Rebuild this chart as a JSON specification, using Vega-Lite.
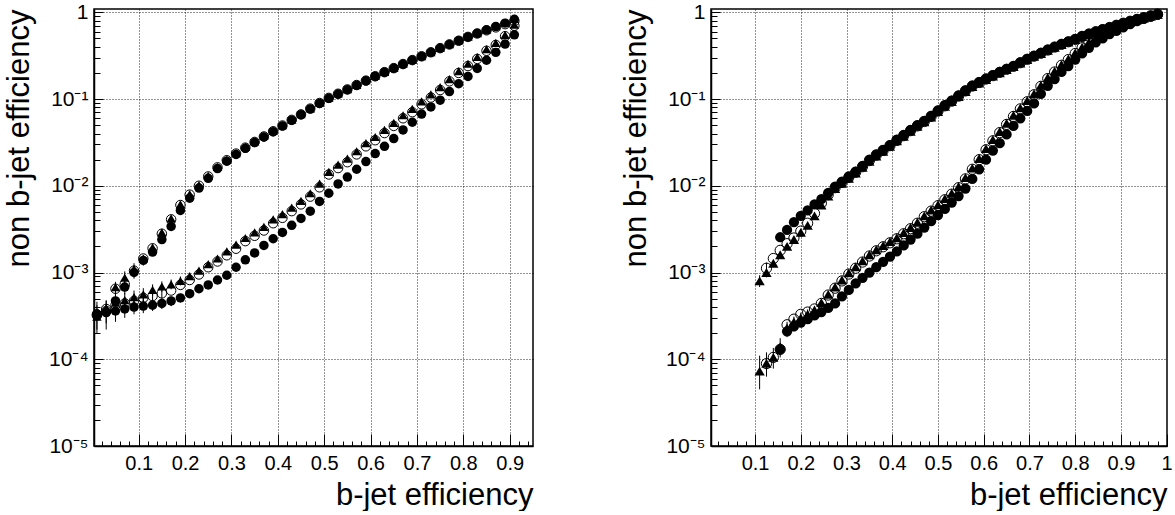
{
"$schema": "https://vega.github.io/schema/vega-lite/v6.json",
"padding": {"left": 2, "top": 0, "right": 0, "bottom": 0},
"bounds": "flush",
"spacing": 178,
"config": {
 "view": {"stroke": "black", "strokeWidth": 1.5},
 "font": "Liberation Sans",
 "axis": {"labelColor": "black", "titleColor": "black", "tickColor": "black", "domainColor": "black", "labelFont": "Liberation Sans", "titleFont": "Liberation Sans", "titleFontWeight": "normal", "gridColor": "#000", "gridDash": [1, 2], "gridWidth": 1, "gridOpacity": 0.85, "labelFlush": false, "labelOverlap": false, "labelBound": false}
},
"datasets": {
 "left": [
  {"x":0.01,"uF":3.3e-4,"uO":3.3e-4,"uT":3.4e-4,"lF":3.3e-4,"lO":3.2e-4,"lT":3.1e-4},
  {"x":0.03,"uF":3.5e-4,"uO":3.8e-4,"uT":3.9e-4,"lF":3.45e-4,"lO":3.6e-4,"lT":3.7e-4},
  {"x":0.05,"uF":4.7e-4,"uO":6.5e-4,"uT":6.8e-4,"lF":3.6e-4,"lO":4.2e-4,"lT":4.5e-4},
  {"x":0.07,"uF":6.8e-4,"uO":7.3e-4,"uT":8.7e-4,"lF":3.8e-4,"lO":4.4e-4,"lT":4.8e-4},
  {"x":0.09,"uF":1.0e-3,"uO":1.05e-3,"uT":1.1e-3,"lF":4.0e-4,"lO":4.7e-4,"lT":5.2e-4},
  {"x":0.11,"uF":1.38e-3,"uO":1.45e-3,"uT":1.45e-3,"lF":4.1e-4,"lO":5.1e-4,"lT":5.6e-4},
  {"x":0.13,"uF":1.72e-3,"uO":1.9e-3,"uT":1.95e-3,"lF":4.2e-4,"lO":5.35e-4,"lT":6.3e-4},
  {"x":0.15,"uF":2.4e-3,"uO":2.8e-3,"uT":2.9e-3,"lF":4.4e-4,"lO":5.75e-4,"lT":6.9e-4},
  {"x":0.17,"uF":3.4e-3,"uO":4.1e-3,"uT":4.2e-3,"lF":4.7e-4,"lO":6.2e-4,"lT":7.3e-4},
  {"x":0.19,"uF":5.2e-3,"uO":6.0e-3,"uT":6.1e-3,"lF":5.1e-4,"lO":7.2e-4,"lT":8.0e-4},
  {"x":0.21,"uF":7.2e-3,"uO":7.9e-3,"uT":8.0e-3,"lF":5.7e-4,"lO":8.2e-4,"lT":9.1e-4},
  {"x":0.23,"uF":9.4e-3,"uO":1.0e-2,"uT":1.02e-2,"lF":6.5e-4,"lO":9.5e-4,"lT":1.05e-3},
  {"x":0.25,"uF":1.22e-2,"uO":1.28e-2,"uT":1.3e-2,"lF":7.2e-4,"lO":1.15e-3,"lT":1.25e-3},
  {"x":0.27,"uF":1.58e-2,"uO":1.63e-2,"uT":1.65e-2,"lF":8.2e-4,"lO":1.34e-3,"lT":1.45e-3},
  {"x":0.29,"uF":1.92e-2,"uO":1.97e-2,"uT":2.0e-2,"lF":9.3e-4,"lO":1.58e-3,"lT":1.75e-3},
  {"x":0.31,"uF":2.3e-2,"uO":2.35e-2,"uT":2.38e-2,"lF":1.15e-3,"lO":1.88e-3,"lT":2.1e-3},
  {"x":0.33,"uF":2.7e-2,"uO":2.75e-2,"uT":2.8e-2,"lF":1.4e-3,"lO":2.3e-3,"lT":2.5e-3},
  {"x":0.35,"uF":3.15e-2,"uO":3.2e-2,"uT":3.25e-2,"lF":1.68e-3,"lO":2.65e-3,"lT":2.9e-3},
  {"x":0.37,"uF":3.65e-2,"uO":3.7e-2,"uT":3.75e-2,"lF":2.05e-3,"lO":3.05e-3,"lT":3.35e-3},
  {"x":0.39,"uF":4.2e-2,"uO":4.25e-2,"uT":4.3e-2,"lF":2.45e-3,"lO":3.7e-3,"lT":4.1e-3},
  {"x":0.41,"uF":4.9e-2,"uO":4.95e-2,"uT":5.0e-2,"lF":2.9e-3,"lO":4.27e-3,"lT":4.7e-3},
  {"x":0.43,"uF":5.7e-2,"uO":5.75e-2,"uT":5.8e-2,"lF":3.5e-3,"lO":5.1e-3,"lT":5.6e-3},
  {"x":0.45,"uF":6.6e-2,"uO":6.65e-2,"uT":6.7e-2,"lF":4.2e-3,"lO":6.1e-3,"lT":6.7e-3},
  {"x":0.47,"uF":7.7e-2,"uO":7.75e-2,"uT":7.8e-2,"lF":5.1e-3,"lO":7.5e-3,"lT":8.2e-3},
  {"x":0.49,"uF":8.9e-2,"uO":9.0e-2,"uT":9.1e-2,"lF":6.6e-3,"lO":9.6e-3,"lT":1.06e-2},
  {"x":0.51,"uF":0.102,"uO":0.103,"uT":0.104,"lF":8.2e-3,"lO":1.35e-2,"lT":1.45e-2},
  {"x":0.53,"uF":0.114,"uO":0.115,"uT":0.116,"lF":1.05e-2,"lO":1.6e-2,"lT":1.75e-2},
  {"x":0.55,"uF":0.128,"uO":0.129,"uT":0.13,"lF":1.26e-2,"lO":1.87e-2,"lT":2.05e-2},
  {"x":0.57,"uF":0.144,"uO":0.145,"uT":0.146,"lF":1.55e-2,"lO":2.3e-2,"lT":2.5e-2},
  {"x":0.59,"uF":0.162,"uO":0.163,"uT":0.165,"lF":1.9e-2,"lO":2.85e-2,"lT":3.1e-2},
  {"x":0.61,"uF":0.182,"uO":0.183,"uT":0.185,"lF":2.35e-2,"lO":3.35e-2,"lT":3.65e-2},
  {"x":0.63,"uF":0.203,"uO":0.204,"uT":0.206,"lF":2.85e-2,"lO":4.05e-2,"lT":4.4e-2},
  {"x":0.65,"uF":0.226,"uO":0.227,"uT":0.229,"lF":3.5e-2,"lO":4.9e-2,"lT":5.3e-2},
  {"x":0.67,"uF":0.252,"uO":0.253,"uT":0.255,"lF":4.4e-2,"lO":6.0e-2,"lT":6.5e-2},
  {"x":0.69,"uF":0.28,"uO":0.281,"uT":0.283,"lF":5.4e-2,"lO":7.05e-2,"lT":7.7e-2},
  {"x":0.71,"uF":0.31,"uO":0.311,"uT":0.313,"lF":6.7e-2,"lO":8.7e-2,"lT":9.4e-2},
  {"x":0.73,"uF":0.345,"uO":0.346,"uT":0.348,"lF":8.1e-2,"lO":0.104,"lT":0.113},
  {"x":0.75,"uF":0.385,"uO":0.386,"uT":0.388,"lF":9.7e-2,"lO":0.127,"lT":0.137},
  {"x":0.77,"uF":0.425,"uO":0.426,"uT":0.43,"lF":0.122,"lO":0.16,"lT":0.17},
  {"x":0.79,"uF":0.47,"uO":0.47,"uT":0.475,"lF":0.15,"lO":0.2,"lT":0.21},
  {"x":0.81,"uF":0.52,"uO":0.52,"uT":0.525,"lF":0.182,"lO":0.24,"lT":0.255},
  {"x":0.83,"uF":0.57,"uO":0.57,"uT":0.575,"lF":0.225,"lO":0.29,"lT":0.305},
  {"x":0.85,"uF":0.625,"uO":0.62,"uT":0.63,"lF":0.28,"lO":0.36,"lT":0.375},
  {"x":0.87,"uF":0.685,"uO":0.67,"uT":0.69,"lF":0.345,"lO":0.42,"lT":0.445},
  {"x":0.89,"uF":0.75,"uO":0.73,"uT":0.76,"lF":0.43,"lO":0.53,"lT":0.55},
  {"x":0.91,"uF":0.83,"uO":0.79,"uT":0.84,"lF":0.55,"lO":0.7,"lT":0.72}
 ],
 "right": [
  {"x":0.11,"uF":null,"uO":null,"uT":8.0e-4,"lF":null,"lO":null,"lT":7.3e-5},
  {"x":0.125,"uF":null,"uO":1.12e-3,"uT":1.0e-3,"lF":null,"lO":8.9e-5,"lT":9.0e-5},
  {"x":0.14,"uF":null,"uO":1.45e-3,"uT":1.28e-3,"lF":null,"lO":1.05e-4,"lT":1.05e-4},
  {"x":0.155,"uF":2.55e-3,"uO":1.8e-3,"uT":1.6e-3,"lF":1.3e-4,"lO":1.3e-4,"lT":1.4e-4},
  {"x":0.17,"uF":3.1e-3,"uO":2.15e-3,"uT":2.0e-3,"lF":2.1e-4,"lO":2.5e-4,"lT":2.3e-4},
  {"x":0.185,"uF":3.8e-3,"uO":2.5e-3,"uT":2.4e-3,"lF":2.4e-4,"lO":2.9e-4,"lT":2.7e-4},
  {"x":0.2,"uF":4.5e-3,"uO":3.0e-3,"uT":2.9e-3,"lF":2.65e-4,"lO":3.3e-4,"lT":3.0e-4},
  {"x":0.215,"uF":5.2e-3,"uO":3.7e-3,"uT":3.5e-3,"lF":2.9e-4,"lO":3.5e-4,"lT":3.3e-4},
  {"x":0.23,"uF":6.1e-3,"uO":4.8e-3,"uT":4.5e-3,"lF":3.2e-4,"lO":3.8e-4,"lT":3.7e-4},
  {"x":0.245,"uF":7.0e-3,"uO":6.3e-3,"uT":6.0e-3,"lF":3.5e-4,"lO":4.4e-4,"lT":4.5e-4},
  {"x":0.26,"uF":8.3e-3,"uO":7.9e-3,"uT":7.6e-3,"lF":3.9e-4,"lO":5.5e-4,"lT":5.6e-4},
  {"x":0.275,"uF":9.8e-3,"uO":9.5e-3,"uT":9.3e-3,"lF":4.4e-4,"lO":6.6e-4,"lT":6.8e-4},
  {"x":0.29,"uF":1.12e-2,"uO":1.09e-2,"uT":1.07e-2,"lF":5.3e-4,"lO":8.0e-4,"lT":8.2e-4},
  {"x":0.305,"uF":1.28e-2,"uO":1.25e-2,"uT":1.22e-2,"lF":6.3e-4,"lO":9.6e-4,"lT":9.9e-4},
  {"x":0.32,"uF":1.46e-2,"uO":1.43e-2,"uT":1.4e-2,"lF":7.5e-4,"lO":1.12e-3,"lT":1.16e-3},
  {"x":0.335,"uF":1.7e-2,"uO":1.66e-2,"uT":1.63e-2,"lF":8.7e-4,"lO":1.32e-3,"lT":1.36e-3},
  {"x":0.35,"uF":2.0e-2,"uO":1.95e-2,"uT":1.92e-2,"lF":1.0e-3,"lO":1.55e-3,"lT":1.6e-3},
  {"x":0.365,"uF":2.3e-2,"uO":2.25e-2,"uT":2.2e-2,"lF":1.15e-3,"lO":1.78e-3,"lT":1.83e-3},
  {"x":0.38,"uF":2.6e-2,"uO":2.55e-2,"uT":2.5e-2,"lF":1.33e-3,"lO":1.98e-3,"lT":2.04e-3},
  {"x":0.395,"uF":2.95e-2,"uO":2.9e-2,"uT":2.85e-2,"lF":1.52e-3,"lO":2.2e-3,"lT":2.27e-3},
  {"x":0.41,"uF":3.4e-2,"uO":3.33e-2,"uT":3.3e-2,"lF":1.75e-3,"lO":2.45e-3,"lT":2.52e-3},
  {"x":0.425,"uF":3.85e-2,"uO":3.78e-2,"uT":3.72e-2,"lF":2.05e-3,"lO":2.8e-3,"lT":2.88e-3},
  {"x":0.44,"uF":4.4e-2,"uO":4.32e-2,"uT":4.25e-2,"lF":2.4e-3,"lO":3.2e-3,"lT":3.3e-3},
  {"x":0.455,"uF":5.0e-2,"uO":4.9e-2,"uT":4.85e-2,"lF":2.8e-3,"lO":3.7e-3,"lT":3.8e-3},
  {"x":0.47,"uF":5.6e-2,"uO":5.5e-2,"uT":5.45e-2,"lF":3.3e-3,"lO":4.4e-3,"lT":4.5e-3},
  {"x":0.485,"uF":6.4e-2,"uO":6.3e-2,"uT":6.2e-2,"lF":3.9e-3,"lO":5.1e-3,"lT":5.25e-3},
  {"x":0.5,"uF":7.4e-2,"uO":7.25e-2,"uT":7.15e-2,"lF":4.6e-3,"lO":5.9e-3,"lT":6.05e-3},
  {"x":0.515,"uF":8.5e-2,"uO":8.35e-2,"uT":8.25e-2,"lF":5.4e-3,"lO":6.9e-3,"lT":7.1e-3},
  {"x":0.53,"uF":9.6e-2,"uO":9.45e-2,"uT":9.35e-2,"lF":6.4e-3,"lO":8.0e-3,"lT":8.2e-3},
  {"x":0.545,"uF":0.11,"uO":0.108,"uT":0.107,"lF":7.6e-3,"lO":9.5e-3,"lT":9.8e-3},
  {"x":0.56,"uF":0.126,"uO":0.124,"uT":0.122,"lF":9.3e-3,"lO":1.2e-2,"lT":1.24e-2},
  {"x":0.575,"uF":0.143,"uO":0.141,"uT":0.139,"lF":1.2e-2,"lO":1.55e-2,"lT":1.6e-2},
  {"x":0.59,"uF":0.157,"uO":0.155,"uT":0.153,"lF":1.55e-2,"lO":2.0e-2,"lT":2.06e-2},
  {"x":0.605,"uF":0.172,"uO":0.17,"uT":0.168,"lF":2.0e-2,"lO":2.6e-2,"lT":2.68e-2},
  {"x":0.62,"uF":0.188,"uO":0.186,"uT":0.184,"lF":2.55e-2,"lO":3.3e-2,"lT":3.4e-2},
  {"x":0.635,"uF":0.205,"uO":0.203,"uT":0.2,"lF":3.1e-2,"lO":4.1e-2,"lT":4.22e-2},
  {"x":0.65,"uF":0.222,"uO":0.22,"uT":0.218,"lF":3.9e-2,"lO":5.1e-2,"lT":5.25e-2},
  {"x":0.665,"uF":0.24,"uO":0.238,"uT":0.236,"lF":4.9e-2,"lO":6.3e-2,"lT":6.5e-2},
  {"x":0.68,"uF":0.265,"uO":0.262,"uT":0.26,"lF":6.0e-2,"lO":7.7e-2,"lT":7.9e-2},
  {"x":0.695,"uF":0.29,"uO":0.287,"uT":0.285,"lF":7.3e-2,"lO":9.3e-2,"lT":9.6e-2},
  {"x":0.71,"uF":0.315,"uO":0.312,"uT":0.31,"lF":8.9e-2,"lO":0.112,"lT":0.115},
  {"x":0.725,"uF":0.34,"uO":0.337,"uT":0.335,"lF":0.115,"lO":0.14,"lT":0.144},
  {"x":0.74,"uF":0.37,"uO":0.367,"uT":0.365,"lF":0.142,"lO":0.172,"lT":0.177},
  {"x":0.755,"uF":0.4,"uO":0.397,"uT":0.395,"lF":0.17,"lO":0.205,"lT":0.21},
  {"x":0.77,"uF":0.43,"uO":0.427,"uT":0.425,"lF":0.205,"lO":0.245,"lT":0.25},
  {"x":0.785,"uF":0.46,"uO":0.457,"uT":0.455,"lF":0.24,"lO":0.285,"lT":0.29},
  {"x":0.8,"uF":0.49,"uO":0.487,"uT":0.485,"lF":0.285,"lO":0.335,"lT":0.34},
  {"x":0.815,"uF":0.53,"uO":0.527,"uT":0.525,"lF":0.335,"lO":0.39,"lT":0.395},
  {"x":0.83,"uF":0.565,"uO":0.562,"uT":0.56,"lF":0.39,"lO":0.45,"lT":0.455},
  {"x":0.845,"uF":0.6,"uO":0.597,"uT":0.595,"lF":0.45,"lO":0.51,"lT":0.515},
  {"x":0.86,"uF":0.635,"uO":0.632,"uT":0.63,"lF":0.5,"lO":0.56,"lT":0.565},
  {"x":0.875,"uF":0.67,"uO":0.668,"uT":0.666,"lF":0.56,"lO":0.615,"lT":0.62},
  {"x":0.89,"uF":0.71,"uO":0.708,"uT":0.706,"lF":0.61,"lO":0.665,"lT":0.67},
  {"x":0.905,"uF":0.75,"uO":0.748,"uT":0.746,"lF":0.67,"lO":0.715,"lT":0.72},
  {"x":0.92,"uF":0.79,"uO":0.788,"uT":0.786,"lF":0.73,"lO":0.765,"lT":0.77},
  {"x":0.935,"uF":0.83,"uO":0.828,"uT":0.826,"lF":0.79,"lO":0.815,"lT":0.82},
  {"x":0.95,"uF":0.87,"uO":0.868,"uT":0.866,"lF":0.84,"lO":0.86,"lT":0.865},
  {"x":0.965,"uF":0.91,"uO":0.908,"uT":0.906,"lF":0.89,"lO":0.905,"lT":0.91},
  {"x":0.98,"uF":0.95,"uO":0.948,"uT":0.946,"lF":0.945,"lO":0.95,"lT":0.952}
 ],
 "errs": [
  {"panel":"L","x":0.01,"lo":2.0e-4,"hi":4.6e-4},
  {"panel":"L","x":0.03,"lo":2.2e-4,"hi":4.7e-4},
  {"panel":"L","x":0.05,"lo":2.7e-4,"hi":4.5e-4},
  {"panel":"L","x":0.07,"lo":3.0e-4,"hi":4.6e-4},
  {"panel":"L","x":0.09,"lo":3.3e-4,"hi":4.8e-4},
  {"panel":"L","x":0.11,"lo":3.4e-4,"hi":4.8e-4},
  {"panel":"L","x":0.13,"lo":3.6e-4,"hi":4.9e-4},
  {"panel":"L","x":0.15,"lo":3.8e-4,"hi":5.0e-4},
  {"panel":"L","x":0.17,"lo":4.1e-4,"hi":5.3e-4},
  {"panel":"L","x":0.19,"lo":4.5e-4,"hi":5.7e-4},
  {"panel":"L","x":0.05,"lo":3.5e-4,"hi":5.0e-4},
  {"panel":"L","x":0.07,"lo":3.7e-4,"hi":5.2e-4},
  {"panel":"L","x":0.09,"lo":4.0e-4,"hi":5.5e-4},
  {"panel":"L","x":0.11,"lo":4.4e-4,"hi":5.9e-4},
  {"panel":"L","x":0.13,"lo":4.6e-4,"hi":6.2e-4},
  {"panel":"L","x":0.15,"lo":5.0e-4,"hi":6.6e-4},
  {"panel":"L","x":0.01,"lo":2.2e-4,"hi":4.2e-4},
  {"panel":"L","x":0.03,"lo":2.6e-4,"hi":4.8e-4},
  {"panel":"L","x":0.05,"lo":3.6e-4,"hi":5.5e-4},
  {"panel":"L","x":0.07,"lo":3.9e-4,"hi":5.8e-4},
  {"panel":"L","x":0.09,"lo":4.3e-4,"hi":6.2e-4},
  {"panel":"L","x":0.11,"lo":4.7e-4,"hi":6.6e-4},
  {"panel":"L","x":0.13,"lo":5.4e-4,"hi":7.3e-4},
  {"panel":"L","x":0.15,"lo":6.0e-4,"hi":7.9e-4},
  {"panel":"L","x":0.17,"lo":6.4e-4,"hi":8.3e-4},
  {"panel":"L","x":0.19,"lo":7.1e-4,"hi":9.0e-4},
  {"panel":"L","x":0.05,"lo":3.8e-4,"hi":5.7e-4},
  {"panel":"L","x":0.05,"lo":5.3e-4,"hi":7.8e-4},
  {"panel":"L","x":0.07,"lo":5.6e-4,"hi":8.0e-4},
  {"panel":"L","x":0.07,"lo":7.2e-4,"hi":1.03e-3},
  {"panel":"L","x":0.09,"lo":8.5e-4,"hi":1.17e-3},
  {"panel":"L","x":0.09,"lo":9.3e-4,"hi":1.28e-3},
  {"panel":"L","x":0.11,"lo":1.2e-3,"hi":1.58e-3},
  {"panel":"R","x":0.11,"lo":4.5e-5,"hi":1.1e-4},
  {"panel":"R","x":0.125,"lo":6.3e-5,"hi":1.2e-4},
  {"panel":"R","x":0.14,"lo":7.8e-5,"hi":1.35e-4},
  {"panel":"R","x":0.155,"lo":1.05e-4,"hi":1.75e-4},
  {"panel":"R","x":0.17,"lo":1.8e-4,"hi":2.7e-4},
  {"panel":"R","x":0.185,"lo":2.1e-4,"hi":3.1e-4},
  {"panel":"R","x":0.2,"lo":2.35e-4,"hi":3.45e-4},
  {"panel":"R","x":0.215,"lo":2.9e-4,"hi":3.75e-4},
  {"panel":"R","x":0.23,"lo":3.3e-4,"hi":4.1e-4},
  {"panel":"R","x":0.11,"lo":6.8e-4,"hi":9.3e-4},
  {"panel":"R","x":0.125,"lo":8.8e-4,"hi":1.13e-3},
  {"panel":"R","x":0.125,"lo":1.0e-3,"hi":1.3e-3}
 ]
},
"hconcat": [
 {
  "width": 439, "height": 437,
  "data": {"name": "left"},
  "transform": [{"fold": ["uF","uO","uT","lF","lO","lT"], "as": ["series","y"]}, {"filter": "isValid(datum.y)"}],
  "resolve": {"axis": {"x": "independent", "y": "independent"}},
  "layer": [
   {
    "mark": {"type": "point", "opacity": 0},
    "encoding": {
     "x": {"field": "x", "type": "quantitative", "scale": {"domain": [0.0037, 0.9502], "nice": false, "zero": false},
       "axis": {"orient": "bottom", "values": [0.02,0.04,0.06,0.08,0.12,0.14,0.16,0.18,0.22,0.24,0.26,0.28,0.32,0.34,0.36,0.38,0.42,0.44,0.46,0.48,0.52,0.54,0.56,0.58,0.62,0.64,0.66,0.68,0.72,0.74,0.76,0.78,0.82,0.84,0.86,0.88,0.92,0.94], "offset": -5, "tickSize": 5, "labels": false, "grid": false, "domain": false, "title": null}},
     "y": {"field": "y", "type": "quantitative", "scale": {"type": "log", "domain": [1e-5, 1.091], "nice": false},
       "axis": {"orient": "left", "values": [2e-5,3e-5,4e-5,5e-5,6e-5,7e-5,8e-5,9e-5,2e-4,3e-4,4e-4,5e-4,6e-4,7e-4,8e-4,9e-4,2e-3,3e-3,4e-3,5e-3,6e-3,7e-3,8e-3,9e-3,2e-2,3e-2,4e-2,5e-2,6e-2,7e-2,8e-2,9e-2,0.2,0.3,0.4,0.5,0.6,0.7,0.8,0.9], "offset": -6, "tickSize": 6, "labels": false, "grid": false, "domain": false, "title": null}}
    }
   },
   {
    "data": {"name": "errs"},
    "transform": [{"filter": "datum.panel == 'L'"}],
    "mark": {"type": "rule", "color": "black", "strokeWidth": 1},
    "encoding": {
     "x": {"field": "x", "type": "quantitative", "scale": {"domain": [0.0037, 0.9502], "nice": false, "zero": false},
       "axis": {"orient": "bottom", "values": [0.1,0.2,0.3,0.4,0.5,0.6,0.7,0.8,0.9], "ticks": false, "labels": false, "grid": true, "domain": true, "domainWidth": 1.5, "title": null}},
     "y": {"field": "lo", "type": "quantitative", "scale": {"type": "log", "domain": [1e-5, 1.091], "nice": false},
       "axis": {"orient": "left", "values": [1e-4,1e-3,1e-2,1e-1,1], "ticks": false, "labels": false, "grid": true, "domain": true, "domainWidth": 1.5, "title": null}},
     "y2": {"field": "hi"}
    }
   },
   {
    "transform": [{"filter": {"field": "series", "oneOf": ["uF", "lF"]}}],
    "mark": {"type": "point", "shape": "circle", "filled": true, "color": "black", "size": 90, "opacity": 1},
    "encoding": {
     "x": {"field": "x", "type": "quantitative", "scale": {"domain": [0.0037, 0.9502], "nice": false, "zero": false},
       "axis": {"orient": "bottom", "values": [0.1,0.2,0.3,0.4,0.5,0.6,0.7,0.8,0.9], "format": "~g", "offset": -12, "tickSize": 12, "tickWidth": 1, "labelFontSize": 20, "labelPadding": 7, "grid": false, "domain": false, "title": "b-jet efficiency", "titleFontSize": 31, "titleAnchor": "end", "titlePadding": 7}},
     "y": {"field": "y", "type": "quantitative", "scale": {"type": "log", "domain": [1e-5, 1.091], "nice": false},
       "axis": {"orient": "left", "values": [1e-5,1e-4,1e-3,1e-2,1e-1,1], "labelExpr": "datum.value >= 0.99 ? '1' : '10' + ['⁻⁵','⁻⁴','⁻³','⁻²','⁻¹'][round(log(datum.value)/LN10) + 5]", "offset": -9, "tickSize": 9, "tickWidth": 1, "labelFontSize": 21, "labelPadding": 6, "grid": false, "domain": false, "title": "non b-jet efficiency", "titleFontSize": 31, "titleAnchor": "end", "titlePadding": 13}}
    }
   },
   {
    "transform": [{"filter": {"field": "series", "oneOf": ["uO", "lO"]}}],
    "mark": {"type": "point", "shape": "circle", "filled": false, "color": "black", "strokeWidth": 1, "size": 90, "opacity": 1},
    "encoding": {
     "x": {"field": "x", "type": "quantitative", "scale": {"domain": [0.0037, 0.9502], "nice": false, "zero": false}, "axis": null},
     "y": {"field": "y", "type": "quantitative", "scale": {"type": "log", "domain": [1e-5, 1.091], "nice": false}, "axis": null}
    }
   },
   {
    "transform": [{"filter": {"field": "series", "oneOf": ["uT", "lT"]}}],
    "mark": {"type": "point", "shape": "triangle-up", "filled": true, "color": "black", "size": 90, "opacity": 1},
    "encoding": {
     "x": {"field": "x", "type": "quantitative", "scale": {"domain": [0.0037, 0.9502], "nice": false, "zero": false}, "axis": null},
     "y": {"field": "y", "type": "quantitative", "scale": {"type": "log", "domain": [1e-5, 1.091], "nice": false}, "axis": null}
    }
   }
  ]
 },
 {
  "width": 456, "height": 437,
  "data": {"name": "right"},
  "transform": [{"fold": ["uF","uO","uT","lF","lO","lT"], "as": ["series","y"]}, {"filter": "isValid(datum.y)"}],
  "resolve": {"axis": {"x": "independent", "y": "independent"}},
  "layer": [
   {
    "mark": {"type": "point", "opacity": 0},
    "encoding": {
     "x": {"field": "x", "type": "quantitative", "scale": {"domain": [0.0037, 1.0007], "nice": false, "zero": false},
       "axis": {"orient": "bottom", "values": [0.02,0.04,0.06,0.08,0.12,0.14,0.16,0.18,0.22,0.24,0.26,0.28,0.32,0.34,0.36,0.38,0.42,0.44,0.46,0.48,0.52,0.54,0.56,0.58,0.62,0.64,0.66,0.68,0.72,0.74,0.76,0.78,0.82,0.84,0.86,0.88,0.92,0.94,0.96,0.98], "offset": -5, "tickSize": 5, "labels": false, "grid": false, "domain": false, "title": null}},
     "y": {"field": "y", "type": "quantitative", "scale": {"type": "log", "domain": [1e-5, 1.091], "nice": false},
       "axis": {"orient": "left", "values": [2e-5,3e-5,4e-5,5e-5,6e-5,7e-5,8e-5,9e-5,2e-4,3e-4,4e-4,5e-4,6e-4,7e-4,8e-4,9e-4,2e-3,3e-3,4e-3,5e-3,6e-3,7e-3,8e-3,9e-3,2e-2,3e-2,4e-2,5e-2,6e-2,7e-2,8e-2,9e-2,0.2,0.3,0.4,0.5,0.6,0.7,0.8,0.9], "offset": -6, "tickSize": 6, "labels": false, "grid": false, "domain": false, "title": null}}
    }
   },
   {
    "data": {"name": "errs"},
    "transform": [{"filter": "datum.panel == 'R'"}],
    "mark": {"type": "rule", "color": "black", "strokeWidth": 1},
    "encoding": {
     "x": {"field": "x", "type": "quantitative", "scale": {"domain": [0.0037, 1.0007], "nice": false, "zero": false},
       "axis": {"orient": "bottom", "values": [0.1,0.2,0.3,0.4,0.5,0.6,0.7,0.8,0.9], "ticks": false, "labels": false, "grid": true, "domain": true, "domainWidth": 1.5, "title": null}},
     "y": {"field": "lo", "type": "quantitative", "scale": {"type": "log", "domain": [1e-5, 1.091], "nice": false},
       "axis": {"orient": "left", "values": [1e-4,1e-3,1e-2,1e-1,1], "ticks": false, "labels": false, "grid": true, "domain": true, "domainWidth": 1.5, "title": null}},
     "y2": {"field": "hi"}
    }
   },
   {
    "transform": [{"filter": {"field": "series", "oneOf": ["uF", "lF"]}}],
    "mark": {"type": "point", "shape": "circle", "filled": true, "color": "black", "size": 105, "opacity": 1},
    "encoding": {
     "x": {"field": "x", "type": "quantitative", "scale": {"domain": [0.0037, 1.0007], "nice": false, "zero": false},
       "axis": {"orient": "bottom", "values": [0.1,0.2,0.3,0.4,0.5,0.6,0.7,0.8,0.9,1], "format": "~g", "offset": -12, "tickSize": 12, "tickWidth": 1, "labelFontSize": 20, "labelPadding": 7, "grid": false, "domain": false, "title": "b-jet efficiency", "titleFontSize": 31, "titleAnchor": "end", "titlePadding": 7}},
     "y": {"field": "y", "type": "quantitative", "scale": {"type": "log", "domain": [1e-5, 1.091], "nice": false},
       "axis": {"orient": "left", "values": [1e-5,1e-4,1e-3,1e-2,1e-1,1], "labelExpr": "datum.value >= 0.99 ? '1' : '10' + ['⁻⁵','⁻⁴','⁻³','⁻²','⁻¹'][round(log(datum.value)/LN10) + 5]", "offset": -9, "tickSize": 9, "tickWidth": 1, "labelFontSize": 21, "labelPadding": 6, "grid": false, "domain": false, "title": "non b-jet efficiency", "titleFontSize": 31, "titleAnchor": "end", "titlePadding": 13}}
    }
   },
   {
    "transform": [{"filter": {"field": "series", "oneOf": ["uO", "lO"]}}],
    "mark": {"type": "point", "shape": "circle", "filled": false, "color": "black", "strokeWidth": 1, "size": 105, "opacity": 1},
    "encoding": {
     "x": {"field": "x", "type": "quantitative", "scale": {"domain": [0.0037, 1.0007], "nice": false, "zero": false}, "axis": null},
     "y": {"field": "y", "type": "quantitative", "scale": {"type": "log", "domain": [1e-5, 1.091], "nice": false}, "axis": null}
    }
   },
   {
    "transform": [{"filter": {"field": "series", "oneOf": ["uT", "lT"]}}],
    "mark": {"type": "point", "shape": "triangle-up", "filled": true, "color": "black", "size": 105, "opacity": 1},
    "encoding": {
     "x": {"field": "x", "type": "quantitative", "scale": {"domain": [0.0037, 1.0007], "nice": false, "zero": false}, "axis": null},
     "y": {"field": "y", "type": "quantitative", "scale": {"type": "log", "domain": [1e-5, 1.091], "nice": false}, "axis": null}
    }
   }
  ]
 }
]
}
